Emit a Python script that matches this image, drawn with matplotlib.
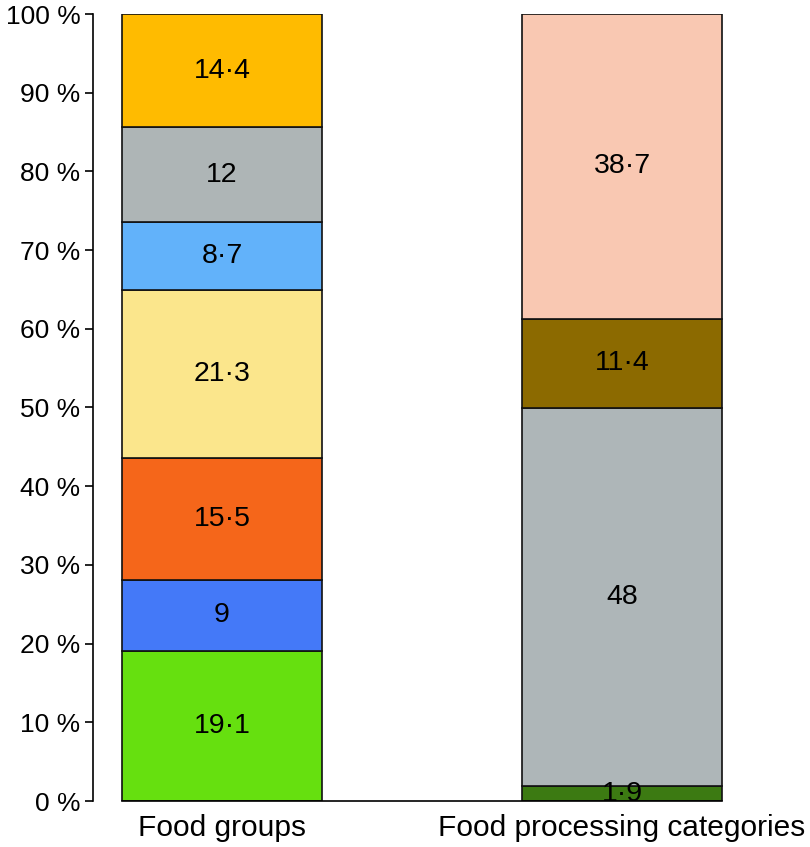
import matplotlib
matplotlib.use("Agg")
import matplotlib.pyplot as plt
import numpy as np

plt.rcParams['font.family'] = ['Liberation Sans', 'DejaVu Sans']

categories = ["Food groups", "Food processing categories"]
food_groups = [19.1, 9, 15.5, 21.3, 8.7, 12, 14.4]
food_group_colors = ["#66E00F", "#4479F8", "#F5661A", "#FBE68C", "#62B2FA", "#AEB5B6", "#FFBB00"]
processing = [1.9, 48, 11.4, 38.7]
processing_colors = ["#3C7A12", "#AEB6B8", "#8C6A00", "#F9C8B2"]
yticks = list(range(0, 101, 10))
ytick_labels = [f"{v} %" for v in yticks]

def fmt(v):
    s = f"{v:g}"
    return s.replace(".", "\u00b7")

fig = plt.figure(figsize=(8.10, 8.47), dpi=100)
ax = fig.add_axes([93/810, 46/847, 717/810, 787/847])

x = [0, 1]
width = 0.5
for xi, vals, cols in [(x[0], food_groups, food_group_colors), (x[1], processing, processing_colors)]:
    bottom = 0
    for v, c in zip(vals, cols):
        ax.bar(xi, v, width=width, bottom=bottom, color=c, edgecolor="#111111", linewidth=1.2)
        ax.text(xi, bottom + v / 2, fmt(v), ha="center", va="center", fontsize=20.5, color="black")
        bottom += v

ax.set_xlim(-0.3225, 1.47)
ax.set_ylim(0, 100)
ax.set_xticks(x)
ax.set_xticklabels(categories, fontsize=21.5)
ax.set_yticks(yticks)
ax.set_yticklabels(ytick_labels, fontsize=19)
ax.tick_params(axis='x', length=0, pad=9)
ax.tick_params(axis='y', length=6, width=1.2, pad=3)
for s in ['top', 'right']:
    ax.spines[s].set_visible(False)
ax.spines['left'].set_linewidth(1.2)
ax.spines['bottom'].set_linewidth(1.2)
ax.spines['bottom'].set_bounds(-0.25, 1.25)

fig.savefig("out.png", dpi=100)
